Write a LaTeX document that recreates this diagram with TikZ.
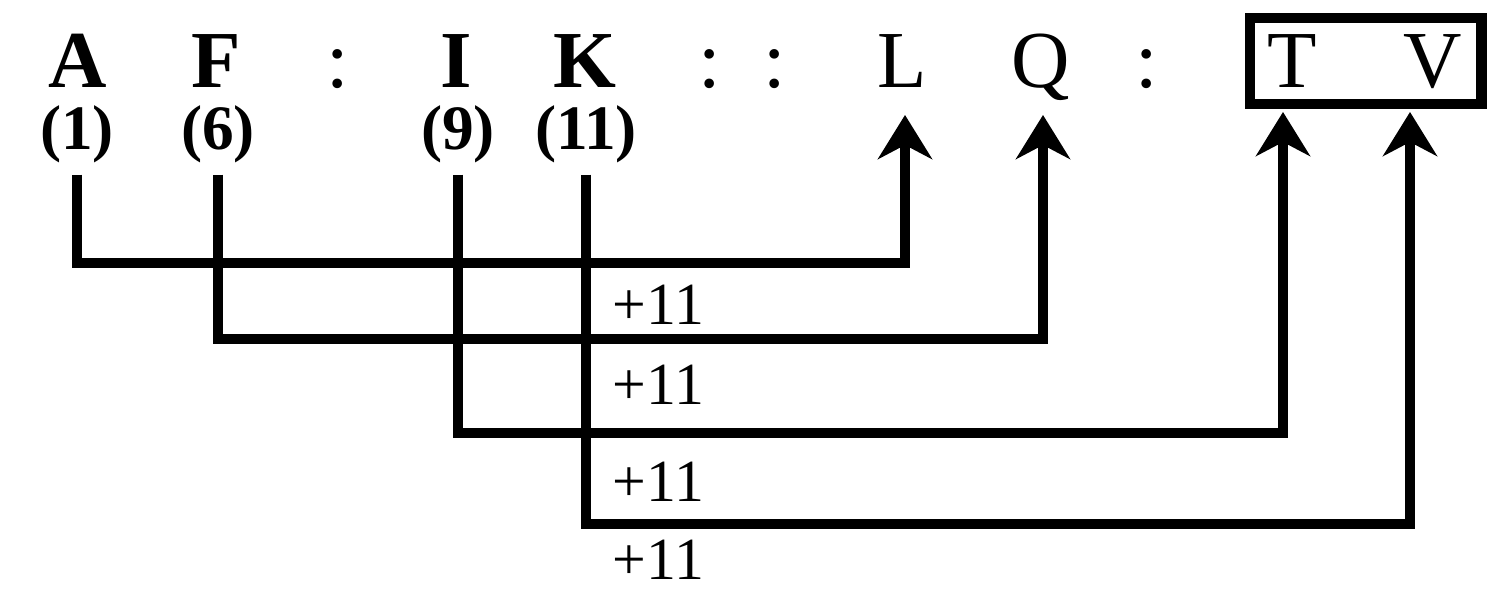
\documentclass[tikz,border=0pt]{standalone}
\usepackage{fontspec}
\setmainfont{Liberation Serif}
\usetikzlibrary{arrows.meta}
\begin{document}
\begin{tikzpicture}
    [
    x=0.01cm, y=-0.01cm,
    symbol/.style={anchor=base,inner sep=0pt,font=\fontsize{23}{23}\selectfont},
    heavy/.style={symbol,font=\fontsize{23}{23}\selectfont\bfseries},
    index/.style={anchor=base,inner xsep=0pt,inner ysep=3pt,font=\fontsize{18}{18}\selectfont\bfseries},
    offset/.style={anchor=base west,inner sep=0pt,font=\fontsize{17}{17}\selectfont},
    frame/.style={rectangle,draw,line width=3.1pt,inner sep=0pt,minimum width=2.31cm,minimum height=0.86cm},
    link/.style={line width=2.6pt,-{Stealth[length=4.4mm,width=5.4mm,inset=1.4mm]}}
    ]
    \useasboundingbox (0,0) rectangle (1488,592);
    \node (a) at (78,88) [heavy] {A};
    \node (f) at (216,88) [heavy] {F};
    \node (c1) at (338,88) [symbol] {:};
    \node (i) at (456,88) [heavy] {I};
    \node (k) at (585,88) [heavy] {K};
    \node (c2) at (710,88) [symbol] {:};
    \node (c3) at (775,88) [symbol] {:};
    \node (l) at (902,88) [symbol] {L};
    \node (q) at (1041,88) [symbol] {Q};
    \node (c4) at (1147,88) [symbol] {:};
    \node (t) at (1292,88) [symbol] {T};
    \node (v) at (1433,88) [symbol] {V};
    \node (tv) at (1365.5,61) [frame] {};
    \node (na) at (77,150) [index] {(1)};
    \node (nf) at (218,150) [index] {(6)};
    \node (ni) at (458,150) [index] {(9)};
    \node (nk) at (586,150) [index] {(11)};
    \coordinate (pl) at (905,115);
    \coordinate (pq) at (1043,115);
    \coordinate (pt) at (1283,112);
    \coordinate (pv) at (1410,112);
    \draw [link] (na.south) |- (pl |- 0,263) -- (pl);
    \draw [link] (nf.south) |- (pq |- 0,339) -- (pq);
    \draw [link] (ni.south) |- (pt |- 0,433) -- (pt);
    \draw [link] (nk.south) |- (pv |- 0,524) -- (pv);
    \node (s1) at (612,325) [offset] {+11};
    \node (s2) at (612,405) [offset] {+11};
    \node (s3) at (612,502) [offset] {+11};
    \node (s4) at (612,580) [offset] {+11};
  \end{tikzpicture}
\end{document}
